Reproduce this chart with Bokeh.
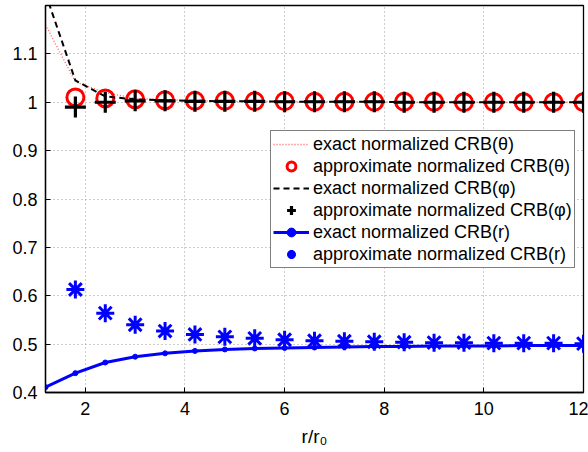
from bokeh.plotting import figure
from bokeh.models import (Range1d, FixedTicker, Legend, LegendItem)
from bokeh.embed import file_html
from bokeh.resources import INLINE

# normalized range r/r0 for the exact curves and the approximations
r_exact = [1.2, 1.8, 2.4, 3.0, 3.6, 4.2, 4.8, 5.4, 6.0, 6.6,
           7.2, 7.8, 8.4, 9.0, 9.6, 10.2, 10.8, 11.4, 12.0]
r_approx = [1.8, 2.4, 3.0, 3.6, 4.2, 4.8, 5.4, 6.0, 6.6,
            7.2, 7.8, 8.4, 9.0, 9.6, 10.2, 10.8, 11.4, 12.0]

exact_theta = [1.160, 1.042, 1.020, 1.008, 1.005, 1.003, 1.002, 1.002, 1.001, 1.001,
               1.001, 1.001, 1.000, 1.000, 1.000, 1.000, 1.000, 1.000, 1.000]
approx_theta = [1.010, 1.008, 1.006, 1.004, 1.003, 1.003, 1.002, 1.002, 1.001,
                1.001, 1.001, 1.001, 1.001, 1.000, 1.000, 1.000, 1.000, 1.000]
exact_phi = [1.225, 1.045, 1.012, 1.006, 1.004, 1.003, 1.002, 1.002, 1.001, 1.001,
             1.001, 1.001, 1.000, 1.000, 1.000, 1.000, 1.000, 1.000, 1.000]
approx_phi = [0.990, 1.000, 1.003, 1.003, 1.002, 1.002, 1.002, 1.001, 1.001,
              1.001, 1.001, 1.000, 1.000, 1.000, 1.000, 1.000, 1.000, 1.000]
exact_r = [0.411, 0.440, 0.462, 0.474, 0.481, 0.486, 0.489, 0.491, 0.492, 0.493,
           0.494, 0.495, 0.495, 0.496, 0.496, 0.496, 0.497, 0.497, 0.497]
approx_r = [0.613, 0.564, 0.540, 0.527, 0.520, 0.515, 0.512, 0.509, 0.507,
            0.506, 0.505, 0.504, 0.503, 0.503, 0.502, 0.502, 0.502, 0.501]

x_ticks = [2, 4, 6, 8, 10, 12]
y_ticks = [0.4, 0.5, 0.6, 0.7, 0.8, 0.9, 1.0, 1.1]
y_tick_labels = ["0.4", "0.5", "0.6", "0.7", "0.8", "0.9", "1", "1.1"]
x_title = "r/r₀"

FONT = "Liberation Sans"

p = figure(width=588, height=452, output_backend="svg", toolbar_location=None,
           x_range=Range1d(1.2, 12), y_range=Range1d(0.4, 1.2),
           min_border_left=45, min_border_right=5, min_border_top=5,
           min_border_bottom=60)
p.background_fill_color = "white"
p.border_fill_color = "white"
p.outline_line_color = "black"
p.outline_line_width = 1.3

for ax in (p.xaxis[0], p.yaxis[0]):
    ax.major_label_text_font = FONT
    ax.major_label_text_font_size = "18px"
    ax.major_label_text_color = "black"
    ax.axis_line_color = "black"
    ax.axis_line_width = 1.3
    ax.major_tick_in = 5
    ax.major_tick_out = 0
    ax.minor_tick_line_color = None
    ax.major_tick_line_color = "black"

p.xaxis.ticker = FixedTicker(ticks=x_ticks)
p.yaxis.ticker = FixedTicker(ticks=y_ticks)
p.yaxis.major_label_overrides = {t: s for t, s in zip(y_ticks, y_tick_labels)}
p.xaxis.major_label_standoff = 9
p.yaxis.major_label_standoff = 8

p.xaxis.axis_label = x_title
p.xaxis.axis_label_text_font = FONT
p.xaxis.axis_label_text_font_size = "19px"
p.xaxis.axis_label_text_font_style = "normal"
p.xaxis.axis_label_text_color = "black"
p.xaxis.axis_label_standoff = 8

p.grid.grid_line_color = "#9a9a9a"
p.grid.grid_line_dash = "1 3"
p.grid.grid_line_width = 1

# exact / approximate curves
l_theta = p.line(r_exact, exact_theta, line_color="#ff5a5a", line_width=1.3,
                 line_dash="1 2")
m_theta = p.scatter(r_approx, approx_theta, marker="circle", size=17,
                    fill_color=None, line_color="#ff0000", line_width=3)
l_phi = p.line(r_exact, exact_phi, line_color="black", line_width=2,
               line_dash="6 4")
m_phi = p.scatter(r_approx, approx_phi, marker="cross", size=21,
                  line_color="black", line_width=3.2)
l_r = p.line(r_exact, exact_r, line_color="#0000ff", line_width=3)
d_r = p.scatter(r_exact, exact_r, marker="circle", size=5,
                fill_color="#0000ff", line_color="#0000ff")
m_r = p.scatter(r_approx, approx_r, marker="asterisk", size=18,
                line_color="#0000ff", line_width=3)

legend = Legend(items=[
    LegendItem(label="exact normalized CRB(θ)", renderers=[l_theta]),
    LegendItem(label="approximate normalized CRB(θ)", renderers=[m_theta]),
    LegendItem(label="exact normalized CRB(φ)", renderers=[l_phi]),
    LegendItem(label="approximate normalized CRB(φ)", renderers=[m_phi]),
    LegendItem(label="exact normalized CRB(r)", renderers=[l_r, d_r]),
    LegendItem(label="approximate normalized CRB(r)", renderers=[m_r]),
], location=(225, 124))
legend.label_text_font = FONT
legend.label_text_font_size = "18px"
legend.label_text_color = "black"
legend.label_height = 22
legend.glyph_height = 22
legend.glyph_width = 36
legend.label_standoff = 4
legend.padding = 2
legend.spacing = 0
legend.margin = 0
legend.border_line_color = "black"
legend.border_line_width = 1.3
legend.background_fill_color = "white"
legend.background_fill_alpha = 1.0
p.add_layout(legend, "center")

open("out.html", "w").write(file_html(p, INLINE))
